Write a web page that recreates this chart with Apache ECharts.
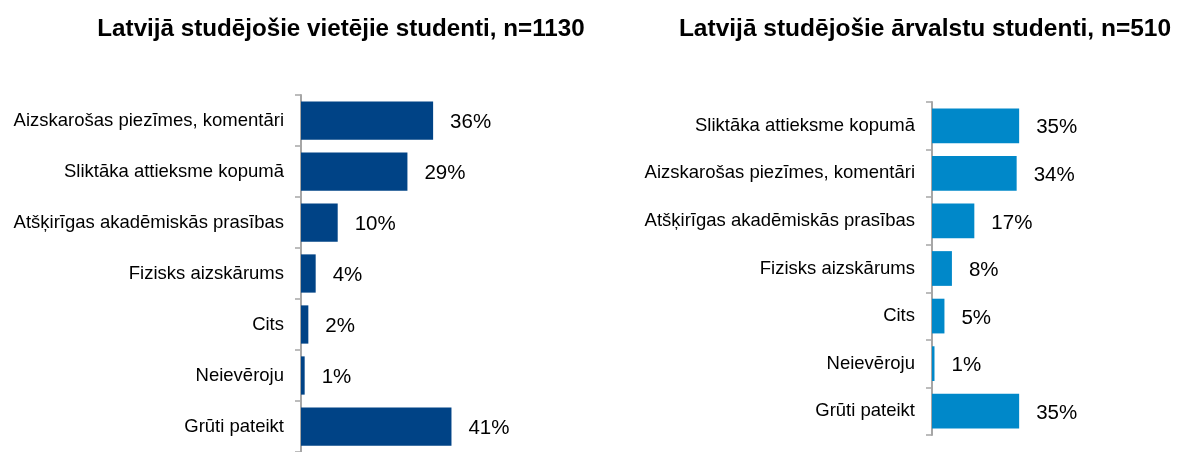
<!DOCTYPE html>
<html>
<head>
<meta charset="utf-8">
<script src="https://cdn.jsdelivr.net/npm/echarts@6/dist/echarts.min.js"></script>
<style>
  html,body{margin:0;padding:0;background:#fff;}
  #chart{width:1181px;height:452px;}
</style>
</head>
<body>
<div id="chart"></div>
<script>
// kreisais grafiks - vietējie studenti
var localTitle = 'Latvijā studējošie vietējie studenti, n=1130';
var localCats = ['Aizskarošas piezīmes, komentāri','Sliktāka attieksme kopumā','Atšķirīgas akadēmiskās prasības','Fizisks aizskārums','Cits','Neievēroju','Grūti pateikt'];
var localVals = [36, 29, 10, 4, 2, 1, 41];

// labais grafiks - ārvalstu studenti
var foreignTitle = 'Latvijā studējošie ārvalstu studenti, n=510';
var foreignCats = ['Sliktāka attieksme kopumā','Aizskarošas piezīmes, komentāri','Atšķirīgas akadēmiskās prasības','Fizisks aizskārums','Cits','Neievēroju','Grūti pateikt'];
var foreignVals = [35, 34, 17, 8, 5, 1, 35];

var font = 'Liberation Sans, Arial, sans-serif';
var chart = echarts.init(document.getElementById('chart'));

function catAxis(idx, cats) {
  return {
    type: 'category',
    gridIndex: idx,
    data: cats,
    inverse: true,
    axisLine: {show: true, lineStyle: {color: '#a6a6a6', width: 2}},
    axisTick: {show: true, length: 6, lineStyle: {color: '#a6a6a6', width: 1.5}},
    axisLabel: {color: '#000', fontSize: 18.5, fontFamily: font, margin: 17, padding: [4, 0, 0, 0]}
  };
}
function valAxis(idx) {
  return {
    type: 'value',
    gridIndex: idx,
    min: 0,
    max: 100,
    show: false,
    splitLine: {show: false}
  };
}
function barSeries(idx, vals, color, gap) {
  return {
    type: 'bar',
    xAxisIndex: idx,
    yAxisIndex: idx,
    data: vals,
    barCategoryGap: gap,
    itemStyle: {color: color},
    label: {
      show: true,
      position: 'right',
      distance: 17,
      offset: [0, 2],
      color: '#000',
      fontSize: 20.5,
      fontFamily: font,
      formatter: '{c}%'
    },
    silent: true
  };
}

var option = {
  animation: false,
  title: [
    {text: localTitle, left: 336, top: 12, textAlign: 'center',
      textStyle: {fontSize: 24.2, fontWeight: 'bold', color: '#000', fontFamily: font}},
    {text: foreignTitle, left: 920, top: 12, textAlign: 'center',
      textStyle: {fontSize: 24.5, fontWeight: 'bold', color: '#000', fontFamily: font}}
  ],
  grid: [
    {left: 301, top: 95, width: 367, height: 361},
    {left: 932, top: 102, width: 268, height: 333}
  ],
  xAxis: [valAxis(0), valAxis(1)],
  yAxis: [catAxis(0, localCats), catAxis(1, foreignCats)],
  series: [
    barSeries(0, localVals, '#004386', '25%'),
    barSeries(1, foreignVals, '#0088c9', '27%')
  ]
};
chart.setOption(option);
</script>
</body>
</html>
